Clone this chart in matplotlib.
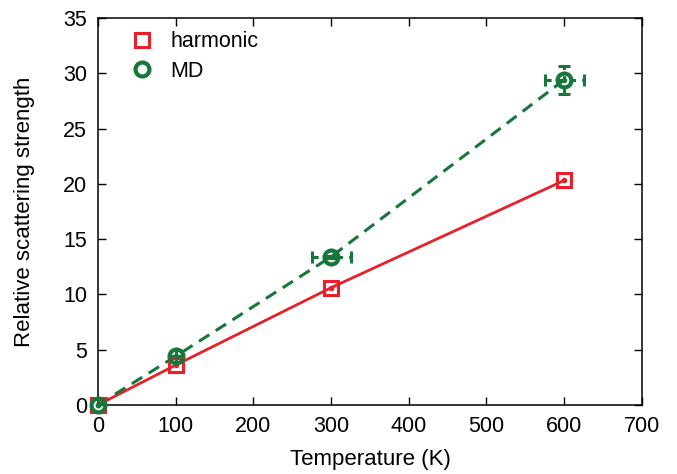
import matplotlib
matplotlib.use("Agg")
import matplotlib.pyplot as plt

# data
temps = [0, 100, 300, 600]
harmonic = [0.0, 3.6, 10.6, 20.3]
md = [0.0, 4.4, 13.4, 29.4]
md_xerr = [0, 0, 25, 25]
md_yerr = [0, 0, 0.1, 1.3]

red = "#e8202a"
green = "#17773a"

plt.rcParams["font.family"] = ["Liberation Sans", "DejaVu Sans"]

fig = plt.figure(figsize=(6.77, 4.74), dpi=100)
ax = fig.add_axes([0.145, 0.146, 0.803, 0.816])

# lines
ax.plot(temps, harmonic, color=red, lw=2, zorder=2)
ax.plot(temps, md, color=green, lw=2.2, ls=(0, (4, 2.5)), zorder=2)

# error bars for MD
eb = ax.errorbar(temps, md, xerr=md_xerr, yerr=md_yerr, fmt="none",
                 ecolor=green, elinewidth=2.2, capsize=4, capthick=2.2, zorder=3)
for lc in eb[2]:
    lc.set_linestyle((0, (2, 2)))

# markers (open with a dot in the middle)
ax.plot(temps, harmonic, ls="none", marker="s", ms=10, mfc="none",
        mec=red, mew=2.2, zorder=4, label="harmonic", clip_on=False)
ax.plot(temps, harmonic, ls="none", marker="o", ms=3, color=red, zorder=4,
        clip_on=False)
ax.plot(temps, md, ls="none", marker="o", ms=10, mfc="none",
        mec=green, mew=3, zorder=5, label="MD", clip_on=False)
ax.plot(temps, md, ls="none", marker="o", ms=3, color=green, zorder=5,
        clip_on=False)

ax.set_xlim(0, 700)
ax.set_ylim(0, 35)
ax.set_xticks(range(0, 701, 100))
ax.set_yticks(range(0, 36, 5))
ax.tick_params(direction="in", top=True, right=True, length=6, width=1,
               labelsize=15.5, pad=8)
for s in ax.spines.values():
    s.set_linewidth(1.1)

ax.set_xlabel("Temperature (K)", fontsize=16, labelpad=9)
ax.set_ylabel("Relative scattering strength", fontsize=16, labelpad=20)

hs, ls = ax.get_legend_handles_labels()
ax.legend(hs, ls, loc="upper left", frameon=False, fontsize=15.5,
          handlelength=1.2, handletextpad=0.7, borderaxespad=0.3,
          labelspacing=0.4, bbox_to_anchor=(0.03, 1.005))

fig.savefig("out.png", dpi=100)
